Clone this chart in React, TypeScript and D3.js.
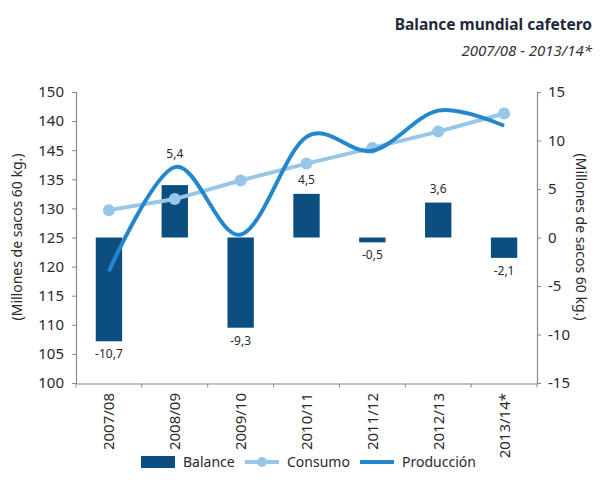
import React, { useEffect, useRef } from "react";
import * as d3 from "d3";

const categories = ["2007/08", "2008/09", "2009/10", "2010/11", "2011/12", "2012/13", "2013/14*"];
const balance = [-10.7, 5.4, -9.3, 4.5, -0.5, 3.6, -2.1];
const consumo = [129.7, 131.6, 134.8, 137.7, 140.4, 143.2, 146.3];
const produccion = [119.2, 137.1, 125.5, 142.3, 139.9, 146.8, 144.2];
const leftTicks = [150, 145, 140, 135, 130, 125, 120, 115, 110, 105, 100];
const leftTickLabels = ["150", "140", "145", "135", "130", "125", "120", "115", "110", "105", "100"];
const rightTicks = [15, 10, 5, 0, -5, -10, -15];

const FONT = "'Noto Sans', 'DejaVu Sans', sans-serif";
const BAR = "#0b4e7f";
const CONS = "#98c6e8";
const PROD = "#2487cc";
const AXIS = "#8a8a8a";
const TEXT = "#2a2a2a";

// hyphen instead of unicode minus, comma decimals
const fmt = (v: number) => v.toFixed(1).replace(".", ",");

export default function App() {
  const leftRef = useRef<SVGGElement>(null);
  const rightRef = useRef<SVGGElement>(null);
  const bottomRef = useRef<SVGGElement>(null);

  const x = d3.scaleBand().domain(categories).range([76, 537]).paddingInner(0.6).paddingOuter(0.3);
  const xb = d3.scaleBand().domain(categories).range([76, 537]);
  const yL = d3.scaleLinear().domain([100, 150]).range([383, 92]);
  const yR = d3.scaleLinear().domain([-15, 15]).range([383, 92]);

  const cx = (c: string) => xb(c)! + xb.bandwidth() / 2;

  useEffect(() => {
    const left = d3.axisLeft(yL).tickValues(leftTicks).tickSize(4).tickPadding(8)
      .tickFormat((d, i) => leftTickLabels[i]);
    const gl = d3.select(leftRef.current!).call(left as any);
    const right = d3.axisRight(yR).tickValues(rightTicks).tickSize(4).tickPadding(7)
      .tickFormat((d) => String(d));
    const gr = d3.select(rightRef.current!).call(right as any);
    const bottom = d3.axisBottom(xb).tickValues([]).tickSizeOuter(0);
    const gb = d3.select(bottomRef.current!).call(bottom as any);
    gb.selectAll(".bt").data(d3.range(categories.length + 1)).join("line").attr("class", "bt")
      .attr("x1", (i) => 76 + i * xb.step()).attr("x2", (i) => 76 + i * xb.step())
      .attr("y1", 0).attr("y2", 4).attr("stroke", AXIS);
    for (const g of [gl, gr, gb]) {
      g.selectAll("path.domain").attr("stroke", AXIS).attr("stroke-width", 1.2);
      g.selectAll(".tick line").attr("stroke", AXIS);
      g.selectAll(".tick text").attr("fill", TEXT).attr("font-size", 15).attr("font-family", FONT);
    }
    gl.select("path.domain").attr("d", "M-4,92.5H0.5V383.5H-4");
    gr.select("path.domain").attr("d", "M4,92.5H0.5V383.5H4");
  }, []);

  const prodLine = d3.line<number>()
    .x((d, i) => cx(categories[i]))
    .y((d) => yL(d))
    .curve(d3.curveCardinal.tension(0));
  const consLine = d3.line<number>()
    .x((d, i) => cx(categories[i]))
    .y((d) => yL(d));

  // label y: positive above bar, negative below; 2008/09 lifted over the curve
  const labelY = (v: number, i: number) =>
    v < 0 ? yR(v) + 17 : i === 1 ? yR(v) - 27 : yR(v) - 10;

  return (
    <svg width={601} height={485} style={{ position: "absolute", left: 0, top: 0, background: "#fff" }}
      fontFamily={FONT}>
      <text x={592} y={30} textAnchor="end" fontSize={15.5} fontWeight="bold" fill="#1e2a3a">Balance mundial cafetero</text>
      <text x={592} y={56} textAnchor="end" fontSize={15} fontStyle="italic" fill="#333">2007/08 - 2013/14*</text>

      <g ref={leftRef} transform="translate(76,0)" />
      <g ref={rightRef} transform="translate(537,0)" />
      <g ref={bottomRef} transform="translate(0,383.5)" />

      <text transform="translate(22,237) rotate(-90)" textAnchor="middle" fontSize={14} fill={TEXT}>(Millones de sacos 60 kg.)</text>
      <text transform="translate(576,237) rotate(90)" textAnchor="middle" fontSize={14} fill={TEXT}>(Millones de sacos 60 kg.)</text>

      {balance.map((v, i) => (
        <rect key={i} x={x(categories[i])} width={x.bandwidth()}
          y={yR(Math.max(0, v))} height={Math.abs(yR(v) - yR(0))} fill={BAR} />
      ))}
      {balance.map((v, i) => (
        <text key={"l" + i} x={cx(categories[i])} y={labelY(v, i)}
          textAnchor="middle" fontSize={12} fill={TEXT}>{fmt(v)}</text>
      ))}

      <path d={consLine(consumo)!} fill="none" stroke={CONS} strokeWidth={4} />
      {consumo.map((v, i) => (
        <circle key={"c" + i} cx={cx(categories[i])} cy={yL(v)} r={6} fill={CONS} />
      ))}
      <path d={prodLine(produccion)!} fill="none" stroke={PROD} strokeWidth={4} />

      {categories.map((c) => (
        <text key={c} transform={`translate(${cx(c) + 5.5},393) rotate(-90)`} textAnchor="end"
          fontSize={15} fill={TEXT}>{c}</text>
      ))}

      <g fontSize={14} fill={TEXT}>
        <rect x={141} y={456} width={34} height={12} fill={BAR} />
        <text x={183} y={467}>Balance</text>
        <line x1={245} x2={279} y1={462} y2={462} stroke={CONS} strokeWidth={4} />
        <circle cx={262} cy={462} r={5} fill={CONS} />
        <text x={287} y={467}>Consumo</text>
        <line x1={360} x2={394} y1={462} y2={462} stroke={PROD} strokeWidth={4} />
        <text x={402} y={467}>Producción</text>
      </g>
    </svg>
  );
}
